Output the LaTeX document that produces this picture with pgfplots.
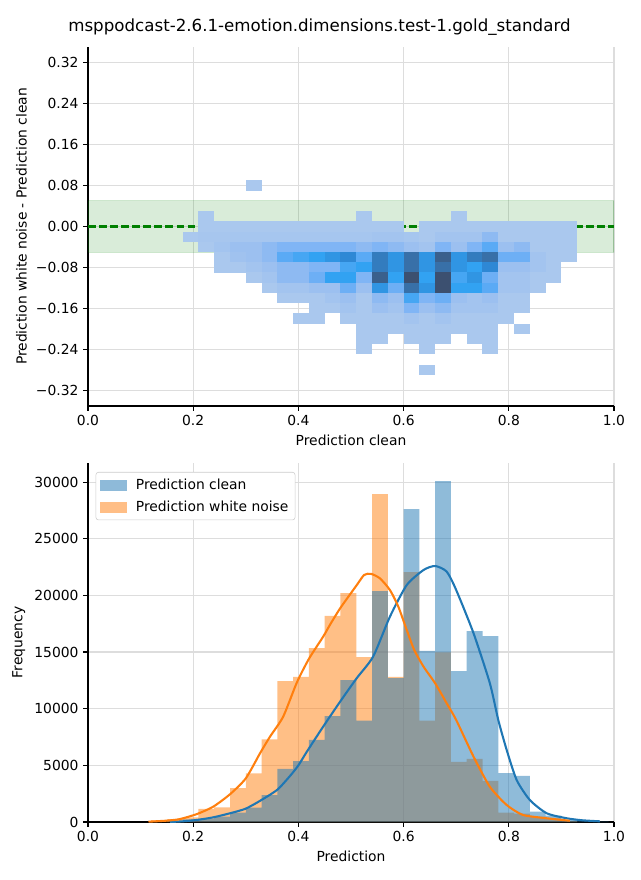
\documentclass[border=0pt]{standalone}
\usepackage{fontspec}
\setmainfont{DejaVu Sans}
\usepackage{pgfplots}
\pgfplotsset{compat=1.18}
\usepackage{pgfplotstable}
\definecolor{clean}{RGB}{31,119,180}
\definecolor{noise}{RGB}{255,127,14}
\definecolor{gridc}{RGB}{221,221,221}
\definecolor{bandc}{RGB}{0,128,0}
\definecolor{legc}{RGB}{204,204,204}
\pgfdeclareplotmark{cell}{\pgfpathrectangle{\pgfpoint{-5.95pt}{-3.86pt}}{\pgfpoint{11.9pt}{7.72pt}}\pgfusepathqfill}

\pgfplotstableread{
x y c
0.195 -0.02 1
0.225 0.02 1
0.225 0.00 1
0.225 -0.02 1.2
0.225 -0.04 1
0.255 0.00 1
0.255 -0.02 1.2
0.255 -0.04 1.5
0.255 -0.06 1
0.255 -0.08 1
0.285 0.00 1
0.285 -0.02 1.3
0.285 -0.04 2
0.285 -0.06 1.7
0.285 -0.08 1
0.315 0.08 1
0.315 0.00 1
0.315 -0.02 1.3
0.315 -0.04 2
0.315 -0.06 2
0.315 -0.08 1.5
0.315 -0.10 1
0.345 0.00 1
0.345 -0.02 1.3
0.345 -0.04 2.5
0.345 -0.06 2.5
0.345 -0.08 2
0.345 -0.10 1.5
0.345 -0.12 1
0.375 0.00 1
0.375 -0.02 1.3
0.375 -0.04 3
0.375 -0.06 4
0.375 -0.08 2.5
0.375 -0.10 2.5
0.375 -0.12 1.5
0.375 -0.14 1
0.405 0.00 1
0.405 -0.02 1.3
0.405 -0.04 3
0.405 -0.06 4.5
0.405 -0.08 2.5
0.405 -0.10 2.5
0.405 -0.12 1.5
0.405 -0.14 1
0.405 -0.18 1
0.435 0.00 1
0.435 -0.02 1.3
0.435 -0.04 3
0.435 -0.06 5
0.435 -0.08 3
0.435 -0.10 3.5
0.435 -0.12 2
0.435 -0.14 1
0.435 -0.16 1
0.435 -0.18 1
0.465 0.00 1
0.465 -0.02 1.3
0.465 -0.04 3
0.465 -0.06 5.5
0.465 -0.08 3
0.465 -0.10 5
0.465 -0.12 2
0.465 -0.14 1.5
0.465 -0.16 1
0.495 0.00 1
0.495 -0.02 1.3
0.495 -0.04 3
0.495 -0.06 6
0.495 -0.08 4.5
0.495 -0.10 5
0.495 -0.12 3.5
0.495 -0.14 2
0.495 -0.16 1.5
0.495 -0.18 1
0.525 0.02 1
0.525 0.00 1
0.525 -0.02 1.3
0.525 -0.04 2.5
0.525 -0.06 4
0.525 -0.08 5
0.525 -0.10 3
0.525 -0.12 2
0.525 -0.14 1
0.525 -0.16 1
0.525 -0.18 1
0.525 -0.20 1
0.525 -0.22 1
0.525 -0.24 1
0.555 0.00 1
0.555 -0.02 1.5
0.555 -0.04 3
0.555 -0.06 6.5
0.555 -0.08 6.5
0.555 -0.10 7.5
0.555 -0.12 5.5
0.555 -0.14 2.5
0.555 -0.16 2
0.555 -0.18 1
0.555 -0.20 1
0.555 -0.22 1
0.585 0.00 1
0.585 -0.02 1.5
0.585 -0.04 2.5
0.585 -0.06 5.5
0.585 -0.08 5.5
0.585 -0.10 5
0.585 -0.12 3.5
0.585 -0.14 2
0.585 -0.16 1.5
0.585 -0.18 1
0.585 -0.20 1
0.615 -0.02 1.3
0.615 -0.04 2
0.615 -0.06 7
0.615 -0.08 7
0.615 -0.10 8
0.615 -0.12 7
0.615 -0.14 4.5
0.615 -0.16 3
0.615 -0.18 1.5
0.615 -0.20 1
0.615 -0.22 1
0.645 0.00 1
0.645 -0.02 1
0.645 -0.04 1.5
0.645 -0.06 5.5
0.645 -0.08 5.5
0.645 -0.10 5
0.645 -0.12 5.5
0.645 -0.14 3
0.645 -0.16 2
0.645 -0.18 1
0.645 -0.20 1
0.645 -0.22 1
0.645 -0.24 1
0.645 -0.28 1
0.675 0.00 1
0.675 -0.02 1.5
0.675 -0.04 3
0.675 -0.06 7.5
0.675 -0.08 7
0.675 -0.10 8
0.675 -0.12 8
0.675 -0.14 3.5
0.675 -0.16 2.5
0.675 -0.18 1.5
0.675 -0.20 1
0.675 -0.22 1
0.705 0.02 1
0.705 0.00 1
0.705 -0.02 1.5
0.705 -0.04 2
0.705 -0.06 5.5
0.705 -0.08 5.5
0.705 -0.10 4.5
0.705 -0.12 5
0.705 -0.14 2
0.705 -0.16 1.5
0.705 -0.18 1
0.705 -0.20 1
0.735 0.00 1
0.735 -0.02 1.5
0.735 -0.04 3
0.735 -0.06 6.5
0.735 -0.08 5
0.735 -0.10 5.5
0.735 -0.12 5
0.735 -0.14 1.5
0.735 -0.16 1.5
0.735 -0.18 1
0.735 -0.20 1
0.735 -0.22 1
0.765 0.00 1
0.765 -0.02 2.5
0.765 -0.04 4
0.765 -0.06 7
0.765 -0.08 6
0.765 -0.10 3.5
0.765 -0.12 4
0.765 -0.14 2
0.765 -0.16 1.5
0.765 -0.18 1
0.765 -0.20 1
0.765 -0.22 1
0.765 -0.24 1
0.795 0.00 1
0.795 -0.02 1
0.795 -0.04 2
0.795 -0.06 3.5
0.795 -0.08 2
0.795 -0.10 1.5
0.795 -0.12 1.5
0.795 -0.14 1
0.795 -0.16 1
0.795 -0.18 1
0.825 0.00 1
0.825 -0.02 1
0.825 -0.04 2.5
0.825 -0.06 3.5
0.825 -0.08 2
0.825 -0.10 1.5
0.825 -0.12 1.5
0.825 -0.14 1
0.825 -0.16 1
0.825 -0.20 1
0.855 0.00 1
0.855 -0.02 1
0.855 -0.04 1
0.855 -0.06 1.5
0.855 -0.08 1.5
0.855 -0.10 1
0.855 -0.12 1
0.885 0.00 1
0.885 -0.02 1
0.885 -0.04 1
0.885 -0.06 1
0.885 -0.08 1
0.885 -0.10 1
0.915 0.00 1
0.915 -0.02 1
0.915 -0.04 1
0.915 -0.06 1
}\heat

\pgfplotsset{
  mystyle/.style={
    scale only axis, width=394.5pt, height=269.25pt,
    axis x line*=bottom, axis y line*=left,
    axis line style={-, black, line width=0.8pt},
    tick align=outside, major tick length=3.6pt,
    tick style={black, line width=0.8pt},
    grid=major, grid style={gridc, line width=0.8pt},
    ticklabel style={font=\fontsize{10.4}{12}\selectfont},
    label style={font=\fontsize{10.4}{12}\selectfont},
    xmin=0, xmax=1,
    xtick={0,0.2,0.4,0.6,0.8,1},
    xticklabels={0.0,0.2,0.4,0.6,0.8,1.0},
  },
  barlegend/.style={legend image code/.code={\fill[##1, draw=none, sharp corners] (0pt,-4.1pt) rectangle (20pt,4.1pt); \path[draw=none, fill=none] (0pt,0pt) -- (25pt,0pt);}},
}

\begin{document}
\begin{tikzpicture}
\path[use as bounding box] (0,0) rectangle (480pt,660pt);
\node[font=\fontsize{12.5}{15}\selectfont] at (239.6pt,639.75pt) {msppodcast-2.6.1-emotion.dimensions.test-1.gold\_standard};

\begin{axis}[mystyle, at={(66pt,355.5pt)}, anchor=south west,
  ymin=-0.351, ymax=0.351,
  ytick={-0.32,-0.24,-0.16,-0.08,0,0.08,0.16,0.24,0.32},
  yticklabels={−0.32,−0.24,−0.16,−0.08,0.00,0.08,0.16,0.24,0.32},
  xlabel={Prediction clean},
  ylabel={Prediction white noise - Prediction clean},
  colormap={sb}{rgb255=(170,200,238) rgb255=(156,192,240) rgb255=(128,181,245) rgb255=(90,170,245) rgb255=(50,162,242) rgb255=(46,136,213) rgb255=(56,112,168) rgb255=(60,80,112)},
  point meta min=1, point meta max=8,
]
\addplot[draw=bandc, draw opacity=0.2, line width=0.8pt, fill=bandc, fill opacity=0.15] coordinates {(0,-0.05) (1,-0.05) (1,0.05) (0,0.05)} -- cycle;
\addplot[scatter, only marks, mark=cell, scatter src=explicit,
  scatter/use mapped color={fill=mapped color, draw=none}]
  table[x=x, y=y, meta=c] {\heat};
\addplot[color=bandc, line width=1.56pt, dash pattern=on 5.8pt off 2.5pt] coordinates {(0,0) (1,0)};
\end{axis}

\begin{axis}[mystyle, at={(66pt,43.5pt)}, anchor=south west,
  ymin=0, ymax=31680,
  ytick={0,5000,10000,15000,20000,25000,30000},
  yticklabels={0,5000,10000,15000,20000,25000,30000},
  scaled y ticks=false,
  xlabel={Prediction}, ylabel={Frequency},
  legend style={at={(0.0145,0.975)}, anchor=north west, draw=legc, rounded corners=2pt, fill=white,
    font=\fontsize{10.4}{12}\selectfont, row sep=3pt, inner xsep=3pt, inner ysep=3pt},
  legend cell align=left,
]
\addlegendimage{barlegend, fill=clean, fill opacity=0.5}
\addlegendentry{Prediction clean}
\addlegendimage{barlegend, fill=noise, fill opacity=0.5}
\addlegendentry{Prediction white noise}

\addplot[ybar interval, fill=noise, fill opacity=0.5, draw=none, forget plot] coordinates {
(0.12,150) (0.15,250) (0.18,410) (0.21,1150) (0.24,1290) (0.27,3000) (0.30,4300) (0.33,7300)
(0.36,12440) (0.39,12800) (0.42,15350) (0.45,18200) (0.48,20200) (0.51,14560) (0.54,28940)
(0.57,12800) (0.60,22060) (0.63,8940) (0.66,14970) (0.69,5300) (0.72,5560) (0.75,3620)
(0.78,820) (0.81,730) (0.84,470) (0.87,320) (0.90,100) (0.93,0)};
\addplot[ybar interval, fill=clean, fill opacity=0.5, draw=none, forget plot] coordinates {
(0.15,90) (0.18,230) (0.21,290) (0.24,470) (0.27,820) (0.30,1260) (0.33,2380) (0.36,4680)
(0.39,5380) (0.42,7240) (0.45,9350) (0.48,12530) (0.51,8940) (0.54,20380) (0.57,12700)
(0.60,27620) (0.63,15090) (0.66,30090) (0.69,13320) (0.72,16850) (0.75,16410) (0.78,4320)
(0.81,4060) (0.84,910) (0.87,560) (0.90,180) (0.93,50) (0.96,30) (0.99,0)};

\addplot[clean, line width=1.56pt, smooth, tension=0.4, forget plot] coordinates {
(0.156,0) (0.18,60) (0.207,180) (0.238,410) (0.27,770) (0.30,1180) (0.33,1950) (0.36,2850)
(0.384,4060) (0.40,5000) (0.416,6200) (0.447,8410) (0.479,10600) (0.511,12700) (0.542,14590)
(0.574,18120) (0.606,20910) (0.638,22240) (0.66,22590) (0.682,22090) (0.70,20470)
(0.733,16650) (0.764,12240) (0.78,9000) (0.796,6350) (0.815,3700) (0.84,1940) (0.872,770)
(0.91,330) (0.94,150) (0.973,60)};
\addplot[noise, line width=1.56pt, smooth, tension=0.4, forget plot] coordinates {
(0.115,30) (0.15,120) (0.175,260) (0.207,700) (0.238,1350) (0.27,2450) (0.30,3850) (0.327,6060)
(0.346,7530) (0.371,9290) (0.397,12300) (0.42,14400) (0.447,16350) (0.46,17400) (0.48,18900)
(0.511,20910) (0.525,21800) (0.538,21900) (0.555,21500) (0.574,20470) (0.59,19000) (0.606,16940)
(0.62,15200) (0.638,13700) (0.66,12240) (0.682,10470) (0.70,9000) (0.733,5760) (0.764,3110)
(0.796,1500) (0.827,620) (0.872,330) (0.916,110)};
\end{axis}
\end{tikzpicture}
\end{document}
